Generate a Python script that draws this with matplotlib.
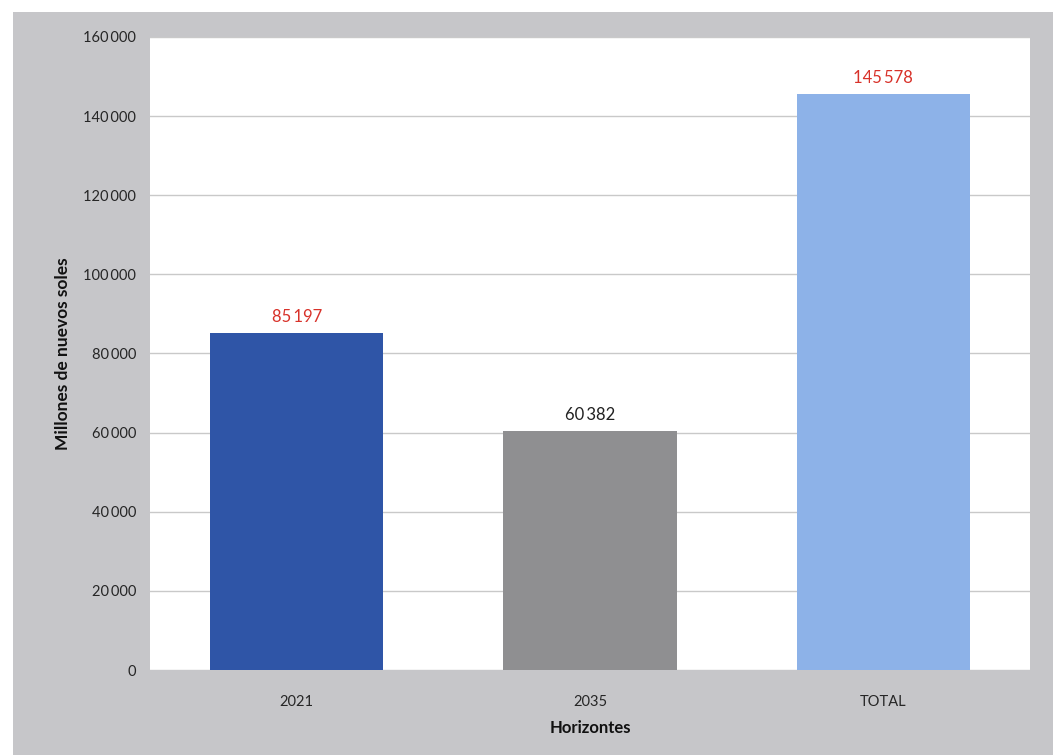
import matplotlib
matplotlib.use("Agg")
import matplotlib.pyplot as plt
from matplotlib.patches import Rectangle
from matplotlib.ticker import FuncFormatter

categories = ["2021", "2035", "TOTAL"]
values = [85197, 60382, 145578]
bar_colors = ["#2f55a7", "#8f8f91", "#8db2e8"]
label_colors = ["#d8322a", "#222222", "#d8322a"]
y_ticks = [0, 20000, 40000, 60000, 80000, 100000, 120000, 140000, 160000]

plt.rcParams["font.family"] = ["Lato", "DejaVu Sans"]

W, H = 1053, 755
fig = plt.figure(figsize=(W / 100, H / 100), dpi=100, facecolor="white")

# grey chart frame behind the plot area
fig.patches.append(Rectangle((13 / W, 0), 1 - 13 / W, 1 - 12 / H,
                             transform=fig.transFigure, facecolor="#c6c6c9",
                             edgecolor="none", zorder=-10))

left, right, top, bottom = 150, 1030, 37, 670
ax = fig.add_axes([left / W, 1 - bottom / H, (right - left) / W, (bottom - top) / H])
ax.set_zorder(5)
ax.set_facecolor("white")


def spaced(v):
    return f"{int(v):,}".replace(",", "\u2009")


x = range(len(categories))
ax.bar(x, values, width=0.59, color=bar_colors, zorder=3)

for xi, v, c in zip(x, values, label_colors):
    ax.annotate(spaced(v), (xi, v), xytext=(0, 6),
                textcoords="offset points", ha="center", va="bottom",
                fontsize=12, color=c, zorder=4)

ax.set_xlim(-0.5, 2.5)
ax.set_ylim(0, 160000)
ax.set_yticks(y_ticks)
ax.yaxis.set_major_formatter(FuncFormatter(lambda v, p: spaced(v)))
ax.set_xticks(list(x))
ax.set_xticklabels(categories)
ax.grid(axis="y", color="#c9c9c9", linewidth=1.0, zorder=0)
ax.set_axisbelow(True)

for s in ax.spines.values():
    s.set_visible(False)
ax.tick_params(axis="both", length=0, labelsize=10.5, colors="#262626")
ax.tick_params(axis="y", pad=10)
ax.tick_params(axis="x", pad=18)

ax.set_ylabel("Millones de nuevos soles", fontsize=12.5, fontweight="bold",
              color="#111111", labelpad=9)
ax.set_xlabel("Horizontes", fontsize=12, fontweight="bold",
              color="#111111", labelpad=8)

fig.savefig("out.png", dpi=100, facecolor=fig.get_facecolor())
